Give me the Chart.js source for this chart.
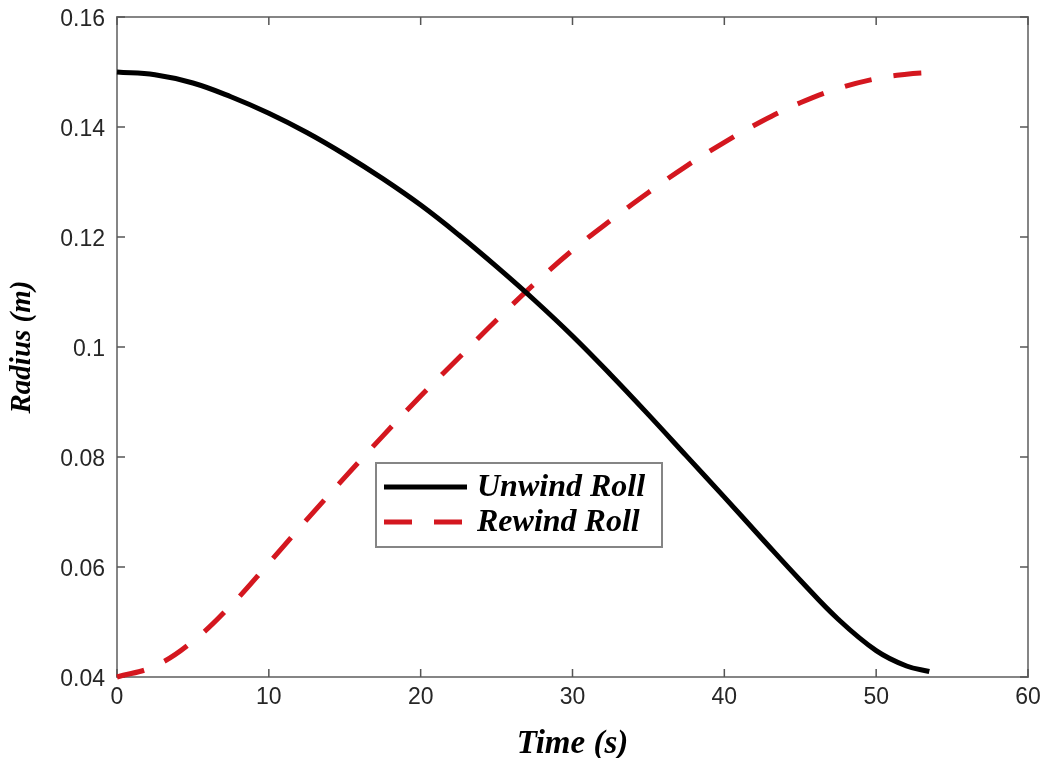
<!DOCTYPE html>
<html>
<head>
<meta charset="utf-8">
<script src="https://cdn.jsdelivr.net/npm/chart.js@4"></script>
<style>
  body { margin: 0; background: #fff; }
  canvas { display: block; }
</style>
</head>
<body>
<canvas id="radiusChart" width="1048" height="758"></canvas>
<script>
// values (time in s, radius in m)
const timeS = [0, 2.5, 5, 7.5, 10, 12.5, 15, 17.5, 20, 22.5, 25, 27.5, 30, 32.5, 35, 37.5, 40, 42.5, 45, 47.5, 50, 52, 53.5];
const unwindRoll = [0.1500, 0.1495, 0.1480, 0.1455, 0.1425, 0.1390, 0.1350, 0.1306, 0.1258, 0.1204, 0.1146, 0.1085, 0.1020, 0.0950, 0.0877, 0.0802, 0.0727, 0.0651, 0.0576, 0.0505, 0.0448, 0.0420, 0.0410];
const rewindRoll = [0.0400, 0.0420, 0.0465, 0.0530, 0.0607, 0.0686, 0.0763, 0.0838, 0.0911, 0.0980, 0.1049, 0.1115, 0.1176, 0.1230, 0.1281, 0.1329, 0.1372, 0.1411, 0.1444, 0.1470, 0.1488, 0.1496, 0.1499];
const xTicks = [0, 10, 20, 30, 40, 50, 60];
const yTicks = [0.04, 0.06, 0.08, 0.1, 0.12, 0.14, 0.16];
const seriesNames = ['Unwind Roll', 'Rewind Roll'];

const RED = '#d4171f';
const FRAME = '#858585';
const serif = '"Liberation Serif", "Times New Roman", serif';
const sans = '"Liberation Sans", Arial, sans-serif';

const toPoints = (ys) => timeS.map((t, i) => ({ x: t, y: ys[i] }));

// MATLAB-style box with inward ticks on all four sides
const frameBox = {
  id: 'frameBox',
  beforeDatasetsDraw(chart) {
    const { ctx, chartArea: a, scales } = chart;
    ctx.save();
    ctx.strokeStyle = FRAME;
    ctx.lineWidth = 2;
    ctx.strokeRect(a.left, a.top, a.right - a.left, a.bottom - a.top);
    ctx.strokeStyle = '#555';
    ctx.lineWidth = 1.5;
    const len = 8;
    ctx.beginPath();
    xTicks.forEach(v => {
      const x = scales.x.getPixelForValue(v);
      ctx.moveTo(x, a.bottom); ctx.lineTo(x, a.bottom - len);
      ctx.moveTo(x, a.top); ctx.lineTo(x, a.top + len);
    });
    yTicks.forEach(v => {
      const y = scales.y.getPixelForValue(v);
      ctx.moveTo(a.left, y); ctx.lineTo(a.left + len, y);
      ctx.moveTo(a.right, y); ctx.lineTo(a.right - len, y);
    });
    ctx.stroke();
    ctx.restore();
  }
};

// legend box placed inside the axes like the figure
const boxLegend = {
  id: 'boxLegend',
  afterDraw(chart) {
    const { ctx } = chart;
    const left = 376, top = 463, w = 286, h = 84;
    ctx.save();
    ctx.fillStyle = '#fff';
    ctx.fillRect(left, top, w, h);
    ctx.strokeStyle = FRAME;
    ctx.lineWidth = 2;
    ctx.strokeRect(left, top, w, h);
    const rows = [
      { y: 487, color: '#000', dash: [] },
      { y: 522, color: RED, dash: [28, 22] }
    ];
    rows.forEach((r, i) => {
      ctx.beginPath();
      ctx.strokeStyle = r.color;
      ctx.lineWidth = 5;
      ctx.setLineDash(r.dash);
      ctx.moveTo(384, r.y);
      ctx.lineTo(467, r.y);
      ctx.stroke();
      ctx.setLineDash([]);
      ctx.fillStyle = '#000';
      ctx.font = 'italic bold 32px ' + serif;
      ctx.textBaseline = 'middle';
      ctx.fillText(seriesNames[i], 477, r.y + 1);
    });
    ctx.restore();
  }
};

new Chart(document.getElementById('radiusChart'), {
  type: 'line',
  data: {
    datasets: [
      {
        label: seriesNames[0],
        data: toPoints(unwindRoll),
        borderColor: '#000',
        borderWidth: 5,
        pointRadius: 0,
        tension: 0.4,
        clip: 6
      },
      {
        label: seriesNames[1],
        data: toPoints(rewindRoll),
        borderColor: RED,
        borderWidth: 5,
        borderDash: [28, 22],
        pointRadius: 0,
        tension: 0.4,
        clip: 6
      }
    ]
  },
  options: {
    responsive: false,
    animation: false,
    layout: { padding: { left: 0, right: 20, top: 17, bottom: 0 } },
    plugins: { legend: { display: false }, tooltip: { enabled: false } },
    scales: {
      x: {
        type: 'linear',
        min: 0, max: 60,
        afterFit: s => { s.height = 81; s.paddingLeft = 0; s.paddingRight = 0; },
        afterBuildTicks: s => { s.ticks = xTicks.map(v => ({ value: v })); },
        grid: { display: false, drawTicks: false },
        border: { display: false },
        ticks: { color: '#262626', padding: 7, font: { family: sans, size: 23 }, maxRotation: 0 },
        title: { display: true, text: 'Time (s)', color: '#000', padding: { top: 0, bottom: 0 }, font: { family: serif, size: 33, style: 'italic', weight: 'bold', lineHeight: 0.85 } }
      },
      y: {
        min: 0.04, max: 0.16,
        afterFit: s => { s.width = 117; s.paddingTop = 0; s.paddingBottom = 0; },
        afterBuildTicks: s => { s.ticks = yTicks.map(v => ({ value: v })); },
        grid: { display: false, drawTicks: false },
        border: { display: false },
        ticks: {
          color: '#262626', padding: 12, labelOffset: 3,
          font: { family: sans, size: 23 },
          callback: v => String(parseFloat(v.toFixed(2)))
        },
        title: { display: true, text: 'Radius (m)', color: '#000', padding: { top: 5, bottom: 0 }, font: { family: serif, size: 29, style: 'italic', weight: 'bold' } }
      }
    }
  },
  plugins: [frameBox, boxLegend]
});
</script>
</body>
</html>
